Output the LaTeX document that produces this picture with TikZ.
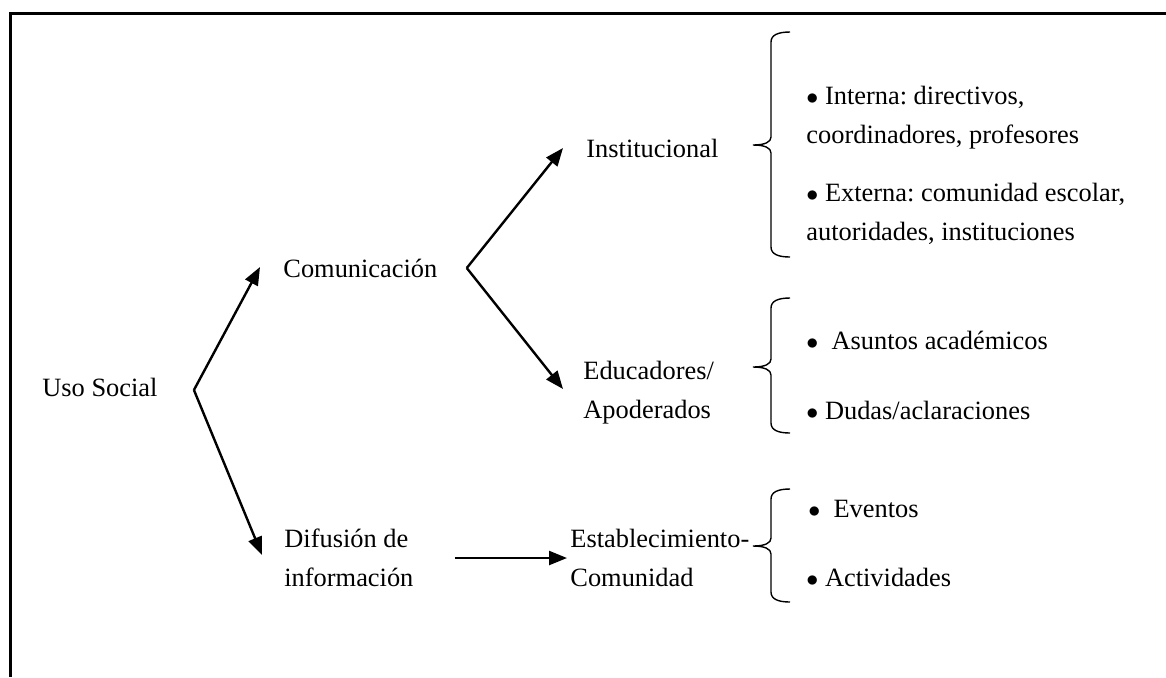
\documentclass[tikz,border=0pt]{standalone}
\usepackage{fontspec}
\setmainfont{Liberation Serif}
\usepackage{tikz}
\usetikzlibrary{calc,arrows.meta}
\frenchspacing

\tikzset{
  lbl/.style={anchor=west, inner sep=0pt, align=left, font=\fontsize{13.2}{19.5}\selectfont},
  arr/.style={line width=1.2pt, -{Triangle[length=9pt,width=7pt]}},
  brc/.style={line width=0.7pt},
  frame/.style={line width=1.5pt}
}

\begin{document}
\begin{tikzpicture}[x=0.5pt, y=-0.5pt]
  \useasboundingbox (0,0) rectangle (1166,677);

  % Frame (open at right and bottom)
  \draw[frame] (1166,13) -- (10,13) -- (10,677);

  % Main labels
  \node[lbl] (uso)  at (42,387)  {Uso Social};
  \node[lbl] (com)  at (283,268) {Comunicación};
  \node[lbl] (dif)  at (284,558) {Difusión de\\información};
  \node[lbl] (inst) at (586,148) {Institucional};
  \node[lbl] (edu)  at (583,393) {Educadores/\\Apoderados};
  \node[lbl] (est)  at (570,558) {Establecimiento-\\Comunidad};

  % Bullet items
  \node[lbl] (intern) at (806,118) {$\bullet$ Interna: directivos,\\coordinadores, profesores};
  \node[lbl] (extern) at (806,214) {$\bullet$ Externa: comunidad escolar,\\autoridades, instituciones};
  \node[lbl] (asun)   at (806,340) {$\bullet$\ \ Asuntos académicos};
  \node[lbl] (dudas)  at (806,410) {$\bullet$ Dudas/aclaraciones};
  \node[lbl] (event)  at (808,509) {$\bullet$\ \ Eventos};
  \node[lbl] (activ)  at (806,577) {$\bullet$ Actividades};

  % Fork points and arrow ends
  \coordinate (forkA) at ($(uso.east)+(36,3)$);
  \coordinate (forkB) at ($(com.east)+(29,0)$);
  \coordinate (toCom) at ($(com.west)+(-23,-1)$);
  \coordinate (toDif) at ($(dif.west)+(-22,-3)$);
  \coordinate (toInst) at ($(inst.west)+(-23,0)$);
  \coordinate (toEdu) at ($(edu.west)+(-20,-4)$);
  \coordinate (fromDif) at ($(dif.east)+(41,0)$);

  % Arrows
  \draw[arr] (forkA) -- (toCom);
  \draw[arr] (forkA) -- (toDif);
  \draw[arr] (forkB) -- (toInst);
  \draw[arr] (forkB) -- (toEdu);
  \draw[arr, shorten >=1.5pt] (fromDif) -- (fromDif -| est.west);

  % Braces
  \foreach \top/\tip/\bot in {32/145/257, 298/367/433, 489/546/602}
    \draw[brc] (790,\top) .. controls (778,\top) and (771,\top+3) .. (771,\top+10)
      -- (771,\tip-8) .. controls (771,\tip-3) and (765,\tip) .. (753,\tip)
      .. controls (765,\tip) and (771,\tip+3) .. (771,\tip+8)
      -- (771,\bot-10) .. controls (771,\bot-3) and (778,\bot) .. (790,\bot);
\end{tikzpicture}
\end{document}
